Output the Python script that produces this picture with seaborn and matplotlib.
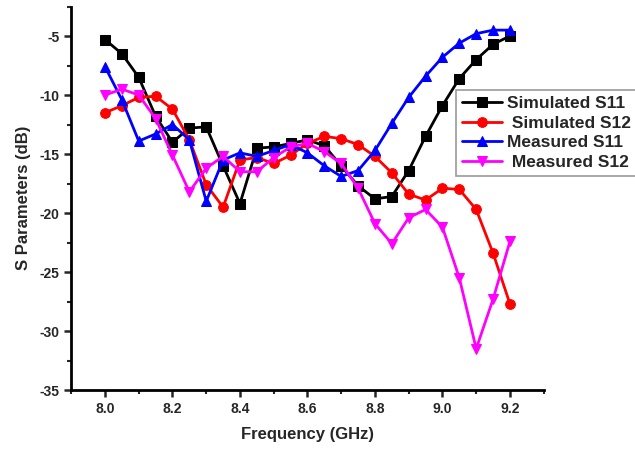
import seaborn as sns
import matplotlib
import pandas as pd
import numpy as np

matplotlib.use('Agg')
import matplotlib.pyplot as plt
from matplotlib.ticker import MultipleLocator

freq = [8.00, 8.05, 8.10, 8.15, 8.20, 8.25, 8.30, 8.35, 8.40, 8.45, 8.50, 8.55, 8.60,
        8.65, 8.70, 8.75, 8.80, 8.85, 8.90, 8.95, 9.00, 9.05, 9.10, 9.15, 9.20]

sim_s11 = [-5.3, -6.5, -8.5, -11.8, -14.0, -12.8, -12.7, -16.0, -19.2, -14.5, -14.4, -14.1, -13.8,
           -14.3, -16.0, -17.7, -18.8, -18.6, -16.4, -13.5, -10.9, -8.6, -7.0, -5.7, -5.0]
sim_s12 = [-11.5, -10.9, -10.2, -10.1, -11.2, -13.8, -17.6, -19.5, -15.5, -15.3, -15.8, -15.1, -14.1,
           -13.5, -13.7, -14.2, -15.2, -16.6, -18.4, -18.9, -17.9, -18.0, -19.7, -23.4, -27.7]
meas_s11 = [-7.6, -10.4, -13.9, -13.3, -12.5, -13.8, -19.0, -15.5, -14.9, -15.2, -14.7, -14.2, -14.9,
            -16.0, -16.9, -16.4, -14.7, -12.4, -10.2, -8.4, -6.8, -5.6, -4.8, -4.5, -4.5]
meas_s12 = [-10.0, -9.5, -10.0, -12.0, -15.1, -18.2, -16.2, -15.2, -16.5, -16.5, -15.3, -14.4, -14.1,
            -14.8, -15.8, -17.9, -20.9, -22.6, -20.4, -19.7, -21.2, -25.5, -31.5, -27.3, -22.4]

labels = ['Simulated S11', ' Simulated S12', 'Measured S11', ' Measured S12']
colors = ['black', 'red', 'blue', 'magenta']
markers = ['s', 'o', '^', 'v']

sns.set_style('ticks')
plt.rcParams['font.family'] = ['Liberation Sans', 'DejaVu Sans']
plt.rcParams['font.weight'] = 'bold'

fig = plt.figure(figsize=(6.35, 4.53), dpi=100)
ax = fig.add_axes([0.1122, 0.139, 0.744, 0.8466])

for series, lab, c, m in zip([sim_s11, sim_s12, meas_s11, meas_s12], labels, colors, markers):
    df = pd.DataFrame({'f': freq, 'v': series})
    sns.lineplot(data=df, x='f', y='v', ax=ax, color=c, marker=m, markersize=7,
                 markeredgecolor=c, linewidth=2, label=lab)

ax.set_xlim(7.9, 9.3)
ax.set_ylim(-35, -2.5)
ax.xaxis.set_minor_locator(MultipleLocator(0.1))
ax.yaxis.set_minor_locator(MultipleLocator(2.5))
ax.set_xticks(np.arange(8.0, 9.21, 0.2))
ax.set_xticklabels(['8.0', '8.2', '8.4', '8.6', '8.8', '9.0', '9.2'])
ax.set_yticks(np.arange(-35, -4, 5))
ax.set_yticklabels(['-35', '-30', '-25', '-20', '-15', '-10', '-5'])

ax.tick_params(which='major', length=5, width=1.8, labelsize=10, direction='out')
ax.tick_params(which='minor', length=3, width=1.5, direction='out')
for lbl in ax.get_xticklabels() + ax.get_yticklabels():
    lbl.set_fontweight('bold')

for s in ['top', 'right']:
    ax.spines[s].set_visible(False)
for s in ['left', 'bottom']:
    ax.spines[s].set_linewidth(2)
    ax.spines[s].set_color('black')

ax.set_xlabel('Frequency (GHz)', fontsize=12, fontweight='bold', labelpad=8)
ax.set_ylabel('S Parameters (dB)', fontsize=12, fontweight='bold', labelpad=6)

# legend sits at the right edge; keep it just inside the figure
leg = ax.legend(loc='upper left', bbox_to_anchor=(456 / 635, 1 - 90 / 453),
                bbox_transform=fig.transFigure, frameon=True, fancybox=False,
                borderaxespad=0, prop={'weight': 'bold', 'size': 12.5}, handlelength=2.3,
                borderpad=0.35, labelspacing=0.25, handletextpad=0.3)
leg.get_frame().set_edgecolor('gray')
leg.get_frame().set_linewidth(1.2)

fig.savefig('out.png', dpi=100, facecolor='white')
